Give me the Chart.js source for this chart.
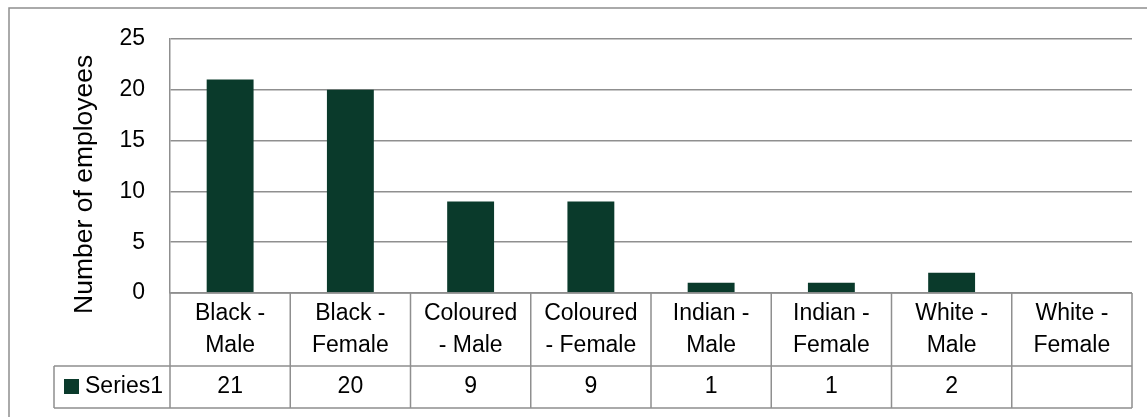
<!DOCTYPE html>
<html>
<head>
<meta charset="utf-8">
<title>Number of employees</title>
<script src="https://cdn.jsdelivr.net/npm/chart.js@4.4.1/dist/chart.umd.min.js"></script>
<style>
  html, body { margin: 0; padding: 0; background: #fff; }
  #wrap { width: 1147px; height: 417px; }
</style>
</head>
<body>
<div id="wrap"><canvas id="myChart"></canvas></div>
<script>
const categories = [
	["Black -", "Male"],
	["Black -", "Female"],
	["Coloured", "- Male"],
	["Coloured", "- Female"],
	["Indian -", "Male"],
	["Indian -", "Female"],
	["White -", "Male"],
	["White -", "Female"],
];
const series1 = [21, 20, 9, 9, 1, 1, 2, null];
const seriesName = "Series1";
const yTicks = [0, 5, 10, 15, 20, 25];

const barColor = "#0a3a2b";
const lineColor = "#8f8f8f";
const fontFamily = "'Liberation Sans', Arial, sans-serif";

// draws the outer frame and the data table under the plot
const dataTable = {
	id: "dataTable",
	beforeDraw(chart) {
		const ctx = chart.ctx;
		ctx.save();
		ctx.fillStyle = "#fff";
		ctx.fillRect(0, 0, chart.width, chart.height);
		ctx.strokeStyle = lineColor;
		ctx.lineWidth = 1.5;
		ctx.strokeRect(9, 8, chart.width, chart.height);
		ctx.restore();
	},
	afterDraw(chart) {
		const ctx = chart.ctx;
		const area = chart.chartArea;
		const x = chart.scales.x;
		const top = area.bottom;
		const row1 = top + 73;
		const row2 = row1 + 42;
		const legendLeft = 54;

		ctx.save();
		ctx.strokeStyle = lineColor;
		ctx.lineWidth = 1.5;
		ctx.beginPath();
		ctx.moveTo(area.left, top);
		ctx.lineTo(area.right, top);
		ctx.moveTo(legendLeft, row1);
		ctx.lineTo(area.right, row1);
		ctx.moveTo(legendLeft, row2);
		ctx.lineTo(area.right, row2);
		for (let i = 0; i <= categories.length; i++) {
			const px = x.getPixelForValue(i - 0.5);
			ctx.moveTo(px, top);
			ctx.lineTo(px, row2);
		}
		ctx.moveTo(legendLeft, row1);
		ctx.lineTo(legendLeft, row2);
		ctx.stroke();

		ctx.fillStyle = "#000";
		ctx.font = "23px " + fontFamily;
		ctx.textAlign = "center";
		ctx.textBaseline = "middle";
		const mid1 = (top + row1) / 2;
		const mid2 = (row1 + row2) / 2;
		categories.forEach((lines, i) => {
			const cx = x.getPixelForValue(i);
			ctx.fillText(lines[0], cx, mid1 - 16);
			ctx.fillText(lines[1], cx, mid1 + 16);
			if (series1[i] !== null) {
				ctx.fillText(String(series1[i]), cx, mid2);
			}
		});

		// legend key + series name
		ctx.fillStyle = barColor;
		ctx.fillRect(64, mid2 - 8, 15, 15);
		ctx.fillStyle = "#000";
		ctx.textAlign = "left";
		ctx.fillText(seriesName, 85, mid2);
		ctx.restore();
	},
};

const ctx1 = document.getElementById("myChart");

let grafico = new Chart(ctx1, {
	type: "bar",
	data: {
		labels: categories,
		datasets: [
			{
				label: seriesName,
				data: series1,
				backgroundColor: barColor,
				borderWidth: 0,
				barPercentage: 0.39,
				categoryPercentage: 1,
			},
		],
	},
	options: {
		responsive: true,
		maintainAspectRatio: false,
		animation: false,
		layout: {
			padding: { top: 38, right: 15, bottom: 124, left: 10 },
		},
		plugins: {
			legend: { display: false },
			tooltip: { enabled: false },
		},
		scales: {
			x: {
				display: false,
			},
			y: {
				min: 0,
				max: 25,
				afterBuildTicks: (scale) => {
					scale.ticks = yTicks.map((v) => ({ value: v }));
				},
				afterFit: (scale) => {
					scale.width = 160;
				},
				grid: {
					color: lineColor,
					lineWidth: 1.5,
					drawTicks: false,
				},
				border: { display: true, color: lineColor, width: 1.5 },
				ticks: {
					padding: 25,
					color: "#000",
					font: { family: fontFamily, size: 23 },
				},
				title: {
					display: true,
					// trailing spaces move the title a bit lower along the axis
					text: "Number of employees\u00a0\u00a0\u00a0\u00a0\u00a0",
					color: "#000",
					font: { family: fontFamily, size: 26.5, lineHeight: 1.2 },
					padding: { top: 59, bottom: 19 },
				},
			},
		},
	},
	plugins: [dataTable],
});
</script>
</body>
</html>
